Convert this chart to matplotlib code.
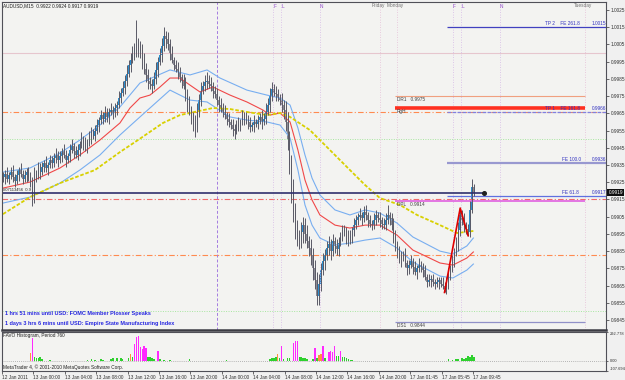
import numpy as np
import matplotlib
matplotlib.use("Agg")
from matplotlib import pyplot as plt
from matplotlib.transforms import blended_transform_factory

plt.rcParams['font.family'] = ['Liberation Sans', 'DejaVu Sans']

# AUDUSD M15 candles, prices in pips (price = value / 10000)
first_open = 9927
closes = [
    9928, 9930, 9927, 9929, 9931, 9928, 9926, 9929, 9932, 9930,
    9927, 9929, 9931, 9928, 9925, 9916, 9927, 9930, 9933, 9931,
    9934, 9936, 9933, 9935, 9938, 9936, 9939, 9941, 9938, 9940,
    9943, 9941, 9938, 9940, 9944, 9946, 9943, 9941, 9944, 9947,
    9950, 9948, 9945, 9948, 9951, 9954, 9952, 9955, 9958, 9961,
    9964, 9962, 9965, 9963, 9966, 9967, 9965, 9968, 9970, 9974,
    9977, 9980, 9984, 9988, 9993, 9996, 9999, 10003, 10005, 10001,
    10002, 9996, 9991, 9987, 9984, 9982, 9981, 9985, 9990, 9995,
    9999, 10004, 10010, 10008, 10005, 10000, 9996, 9993, 9991, 9989,
    9986, 9984, 9981, 9976, 9971, 9967, 9963, 9960, 9958, 9966,
    9973, 9978, 9981, 9983, 9984, 9982, 9981, 9978, 9976, 9973,
    9970, 9968, 9966, 9964, 9962, 9960, 9958, 9956, 9955, 9957,
    9959, 9960, 9963, 9961, 9962, 9960, 9957, 9958, 9960, 9959,
    9961, 9963, 9960, 9962, 9966, 9970, 9975, 9979, 9977, 9976,
    9974, 9973, 9970, 9967, 9960, 9950, 9935, 9920, 9908, 9897,
    9893, 9891, 9896, 9900, 9895, 9891, 9887, 9883, 9875, 9868,
    9859, 9866, 9874, 9879, 9883, 9887, 9889, 9885, 9891, 9888,
    9886, 9890, 9894, 9896, 9897, 9893, 9891, 9894, 9897, 9900,
    9903, 9905, 9906, 9904, 9908, 9906, 9903, 9901, 9900, 9903,
    9906, 9904, 9903, 9901, 9900, 9903, 9906, 9904, 9900, 9894,
    9889, 9884, 9880, 9882, 9883, 9878, 9875, 9877, 9879, 9876,
    9873, 9875, 9877, 9876, 9874, 9870, 9867, 9868, 9869, 9867,
    9866, 9867, 9868, 9866, 9865, 9863, 9867, 9871, 9875, 9879,
    9884, 9889, 9897, 9906, 9903, 9900, 9898, 9896, 9909, 9922,
    9919,
]
# wick lengths in pips above / below the body
up_wick = [
    3, 2, 4, 2, 3, 4, 2, 3, 2, 4,  2, 3, 2, 3, 3, 3, 7, 2, 4, 3,
    3, 2, 4, 2, 3, 2, 3, 4, 2, 3,  2, 4, 3, 2, 3, 4, 2, 3, 3, 2,
    4, 2, 3, 2, 4, 3, 2, 3, 4, 2,  3, 2, 4, 3, 2, 4, 2, 3, 2, 4,
    3, 4, 3, 5, 3, 4, 5, 3, 14, 4,  5, 3, 4, 3, 4, 2, 3, 4, 5, 3,
    4, 5, 5, 3, 4, 3, 4, 2, 3, 4,  3, 2, 4, 5, 3, 4, 2, 3, 4, 5,
    3, 5, 3, 4, 5, 3, 4, 2, 3, 4,  2, 4, 3, 4, 2, 3, 2, 4, 3, 4,
    4, 2, 4, 3, 4, 2, 3, 2, 4, 2,  3, 2, 4, 3, 5, 4, 5, 4, 3, 4,
    3, 2, 4, 3, 5, 6, 5, 6, 7, 5,  6, 4, 6, 5, 4, 5, 3, 5, 4, 5,
    5, 6, 4, 5, 3, 4, 5, 3, 4, 2,  4, 3, 2, 4, 3, 2, 4, 3, 2, 4,
    3, 2, 4, 2, 3, 4, 2, 3, 2, 4,  3, 2, 4, 2, 3, 4, 6, 2, 3, 4,
    3, 2, 4, 3, 2, 4, 2, 3, 4, 2,  3, 2, 4, 2, 2, 3, 2, 4, 2, 3,
    2, 3, 2, 2, 4, 2, 3, 4, 2, 4,  3, 4, 5, 4, 3, 4, 2, 3, 5, 5,
    2,
]
dn_wick = [
    2, 4, 2, 3, 2, 3, 4, 2, 3, 2,  3, 2, 4, 2, 3, 5, 3, 2, 3, 4,
    2, 3, 2, 4, 2, 3, 2, 3, 4, 2,  3, 2, 4, 2, 3, 2, 4, 2, 3, 4,
    2, 4, 2, 3, 2, 4, 2, 3, 2, 4,  2, 3, 2, 3, 4, 2, 3, 2, 4, 2,
    3, 2, 4, 3, 2, 4, 2, 3, 5, 3,  4, 5, 3, 4, 5, 3, 4, 2, 3, 4,
    2, 4, 3, 5, 3, 4, 2, 3, 2, 4,  3, 4, 2, 4, 5, 3, 4, 5, 7, 4,
    3, 4, 2, 3, 4, 2, 3, 4, 2, 3,  4, 2, 3, 2, 4, 3, 2, 4, 5, 2,
    2, 4, 2, 3, 2, 4, 3, 2, 4, 2,  3, 2, 4, 2, 3, 2, 4, 3, 2, 4,
    2, 3, 4, 5, 5, 6, 5, 7, 6, 5,  5, 5, 4, 6, 5, 4, 5, 6, 7, 5,
    5, 5, 4, 3, 5, 3, 4, 5, 3, 4,  3, 4, 2, 3, 2, 4, 3, 2, 4, 3,
    2, 3, 2, 4, 2, 3, 4, 2, 3, 2,  3, 2, 4, 3, 2, 3, 2, 4, 3, 4,
    4, 3, 2, 4, 3, 2, 4, 3, 2, 4,  2, 4, 2, 3, 4, 2, 3, 2, 4, 2,
    3, 2, 4, 2, 2, 2, 3, 4, 3, 2,  3, 2, 4, 3, 3, 4, 3, 2, 3, 2,
    2,
]

# moving averages (bar index, price)
yellow_x = [0, 13.8, 29.1, 46.9, 59.6, 68.8, 81.5, 90.2, 107.0, 115.7, 124.3, 134.5,
            141.2, 146.3, 156.4, 166.6, 176.8, 184.5, 192.1, 202.3, 211.0, 222.7, 231.4, 239.7]
yellow_y = [0.99065, 0.99164, 0.99245, 0.99321, 0.99425, 0.99495, 0.99594, 0.99640, 0.99681,
            0.99675, 0.99658, 0.99640, 0.99652, 0.99629, 0.99553, 0.99437, 0.99321, 0.99234,
            0.99158, 0.99118, 0.99060, 0.99001, 0.98955, 0.98967]
red_x = [0, 13.8, 29.1, 39.2, 49.4, 59.6, 64.7, 69.8, 74.9, 80.0, 85.1, 90.2, 95.3, 100.4,
         107.0, 115.7, 124.3, 132.5, 136.1, 141.2, 146.3, 150.3, 153.9, 157.5, 161.5, 169.2,
         176.8, 184.5, 192.1, 200.8, 208.9, 222.7, 229.3, 236.4, 239.7]
red_y = [0.99216, 0.99251, 0.99333, 0.99408, 0.99495, 0.99594, 0.99681, 0.99739, 0.99756,
         0.99803, 0.99855, 0.99855, 0.99814, 0.99774, 0.99803, 0.99756, 0.99716, 0.99669,
         0.99640, 0.99652, 0.99600, 0.99437, 0.99263, 0.99147, 0.99060, 0.99001, 0.98984,
         0.99001, 0.99001, 0.98943, 0.98856, 0.98781, 0.98769, 0.98810, 0.98845]
band_up_x = [0, 13.8, 29.1, 39.2, 49.4, 59.6, 69.8, 85.1, 95.3, 104.0, 110.6, 124.3, 134.5,
             141.2, 146.3, 150.3, 153.9, 157.5, 161.5, 169.2, 176.8, 184.5, 192.1, 200.8,
             208.9, 222.7, 229.3, 236.4, 239.7]
band_up_y = [0.99309, 0.99333, 0.99420, 0.99495, 0.99582, 0.99687, 0.99826, 0.99902, 0.99873,
             0.99902, 0.99855, 0.99785, 0.99756, 0.99739, 0.99698, 0.99565, 0.99408, 0.99274,
             0.99176, 0.99089, 0.99060, 0.99089, 0.99071, 0.99013, 0.98932, 0.98850, 0.98833,
             0.98880, 0.98926]
band_dn_x = [0, 13.8, 29.1, 39.2, 49.4, 59.6, 69.8, 85.1, 95.3, 104.0, 115.7, 124.3, 134.5,
             141.2, 146.3, 150.3, 153.9, 157.5, 161.5, 169.2, 176.8, 184.5, 192.1, 200.8,
             208.9, 222.7, 229.3, 236.4, 239.7]
band_dn_y = [0.99129, 0.99164, 0.99245, 0.99321, 0.99408, 0.99524, 0.99629, 0.99785, 0.99727,
             0.99716, 0.99629, 0.99611, 0.99600, 0.99582, 0.99507, 0.99321, 0.99118, 0.99001,
             0.98926, 0.98885, 0.98897, 0.98914, 0.98926, 0.98868, 0.98787, 0.98705, 0.98694,
             0.98740, 0.98775]
zigzag_x = [225, 233, 237]
zigzag_y = [0.9861, 0.9910, 0.9894]

# histogram sub-window
hist_bar = [14, 15, 16, 17, 18, 19, 20, 24, 43, 45, 47, 50, 51, 55, 56, 58, 60, 61,
            64, 65, 66, 67, 68, 69, 70, 71, 72, 73, 74, 75, 76, 77, 79, 80, 82, 85, 95, 114,
            136, 137, 138, 139, 140, 141, 142, 143, 145, 146, 148, 149, 150, 151, 152, 153,
            154, 155, 158, 159, 160, 161, 162, 163, 164, 166, 167, 168, 169, 170, 171, 172,
            173, 174, 175, 176, 177, 178,
            227, 229, 231, 232, 234, 235, 236, 237, 238, 239, 240]
hist_val = [75, 227, 35, 30, 25, 40, 20, 8, 10, 15, 8, 12, 10, 20, 25, 30, 22, 15,
            30, 65, 35, 170, 240, 250, 140, 120, 150, 130, 40, 35, 30, 20, 100, 15, 10, 8, 15, 8,
            20, 30, 25, 35, 65, 30, 150, 20, 30, 25, 180, 200, 200, 40, 35, 30,
            25, 20, 20, 125, 25, 60, 65, 150, 30, 90, 95, 90, 150, 50, 45, 100,
            35, 40, 25, 20, 10, 8,
            12, 10, 20, 15, 25, 20, 30, 45, 40, 55, 35]
hist_kind = ['o', 'm', 'g', 'g', 'g', 'g', 'g', 'g', 'g', 'g', 'g', 'g', 'g', 'g', 'g', 'g', 'g', 'g',
             'g', 'o', 'g', 'm', 'm', 'm', 'm', 'm', 'm', 'm', 'g', 'g', 'g', 'g', 'm', 'g', 'g', 'g', 'g', 'g',
             'g', 'g', 'g', 'g', 'o', 'g', 'm', 'g', 'g', 'g', 'm', 'm', 'm', 'g', 'g', 'g',
             'g', 'g', 'g', 'm', 'g', 'o', 'o', 'm', 'g', 'm', 'm', 'm', 'm', 'g', 'g', 'm',
             'g', 'g', 'g', 'g', 'g', 'g',
             'g', 'g', 'g', 'g', 'g', 'g', 'g', 'g', 'g', 'g', 'g']
hist_top, hist_bottom = 292.778, -107.694

time_labels = ["12 Jan 2011", "13 Jan 00:00", "13 Jan 04:00", "13 Jan 08:00", "13 Jan 12:00",
               "13 Jan 16:00", "13 Jan 20:00", "14 Jan 00:00", "14 Jan 04:00", "14 Jan 08:00",
               "14 Jan 12:00", "14 Jan 16:00", "14 Jan 20:00", "17 Jan 01:45", "17 Jan 05:45",
               "17 Jan 09:45"]

session_labels = ["F", "L", "N", "F", "L", "N"]
session_bars = [137.6, 141.7, 161.5, 229.3, 233.4, 253.3]
day_labels = ["Friday", "Monday", "Tuesday"]
day_bars = [192.1, 200.8, 296.6]
day_sep_bar = 109.1

pivot_names = ["DR1", "RgH", "DPL", "DS1"]
pivot_prices = [0.9975, 0.9968, 0.9914, 0.9844]
fibo_names = ["TP 2    FE 261.8", "TP 1    FE 161.8", "FE 100.0", "FE 61.8"]
fibo_prices = [1.0015, 0.9966, 0.9936, 0.9917]
last_price = 0.9919

# ---------------------------------------------------------------
W, H = 625, 380
bg = '#F3F3F1'
small = 3.4


def px_box(x0, y0, x1, y1):
    return [x0 / W, 1 - y1 / H, (x1 - x0) / W, (y1 - y0) / H]


def ftext(x, y, s, **kw):
    fig.text(x / W, 1 - y / H, s, va='center', ha='left', **kw)


fig = plt.figure(figsize=(6.25, 3.8), dpi=100, facecolor='#F0F0F0')
ax = fig.add_axes(px_box(2, 2, 606, 330), facecolor=bg)
axh = fig.add_axes(px_box(2, 332, 606, 371), facecolor=bg, sharex=ax)

n = len(closes)
bars = np.arange(n)
c = np.array(closes) / 1e4
o = np.array([first_open] + closes[:-1]) / 1e4
hi = np.maximum(o, c) + np.array(up_wick) / 1e4
lo = np.minimum(o, c) - np.array(dn_wick) / 1e4

# full-width levels
ax.axhline(1.0000, color='#E6C6CE', lw=0.8)
ax.axhline(0.9950, color='#A8E6A0', lw=0.7, ls=(0, (1, 1.5)))
ax.axhline(0.9850, color='#A8E6A0', lw=0.7, ls=(0, (1, 1.5)))
ax.axhline(0.9966, color='#FF8A50', lw=0.8, ls=(0, (5, 2, 1, 2)))
ax.axhline(0.9915, color='#F06A6A', lw=0.8, ls=(0, (5, 2, 1, 2)))
ax.axhline(0.9883, color='#FF8A50', lw=0.8, ls=(0, (5, 2, 1, 2)))

# session / day markers
trans_top = blended_transform_factory(ax.transData, ax.transAxes)
ax.axvline(day_sep_bar, color='#A47CE0', lw=0.7, ls=(0, (3, 2)))
for lab, b in zip(session_labels, session_bars):
    ax.axvline(b, color='#D4B6E6', lw=0.6, ls=(0, (1, 2)))
    ax.text(b + 0.8, 1 - 4 / 328, lab, transform=trans_top, fontsize=small,
            color='#9048C8', ha='center', va='center')
for lab, b in zip(day_labels, day_bars):
    ax.axvline(b, color='#E6BCD6', lw=0.6, ls=(0, (1, 2)))
    ax.text(b - 1, 1 - 4 / 328, lab, transform=trans_top, fontsize=small,
            color='#707070', ha='center', va='center')

# pivot levels
piv_cols = ['#F0A080', '#FF3020', '#E060E0', '#9090C8']
piv_lw = [0.8, 2.6, 1.2, 0.9]
for name, p, col, lw in zip(pivot_names, pivot_prices, piv_cols, piv_lw):
    ax.hlines(p, 199.8, 296.6, color=col, lw=lw)
    lab = name if name == "RgH" else f"{name}   {p:.4f}"
    ax.text(200.8, p - 0.00007, lab, fontsize=small, color='#404040', va='top', ha='left')

# fibo expansion levels
fib_cols = ['#4040C0', '#8080E0', '#9898D0', '#6070E0']
fib_lw = [0.9, 0.9, 1.6, 0.9]
fib_ls = ['-', (0, (3, 1)), '-', '-']
for name, p, col, lw, ls in zip(fibo_names, fibo_prices, fib_cols, fib_lw, fib_ls):
    ax.hlines(p, 226.3, 307.3, color=col, lw=lw, ls=ls)
    ax.text(284.8 if name.startswith("FE") else 276.2, p + 0.00005, name,
            fontsize=small, color='#3030C0', va='bottom', ha='left')
    ax.text(300.1, p + 0.00005, f"{p:.4f}", fontsize=small, color='#3030C0',
            va='bottom', ha='left')

# moving averages
ax.plot(band_up_x, band_up_y, color='#78AEF0', lw=0.8)
ax.plot(band_dn_x, band_dn_y, color='#78AEF0', lw=0.8)
ax.plot(red_x, red_y, color='#F04848', lw=0.8)
ax.plot(yellow_x, yellow_y, color='#D8D000', lw=1.3, ls=(0, (2, 1)))

# candles
ax.vlines(bars, lo, hi, color='#5A5A66', lw=0.7)
up = c >= o
ax.bar(bars[up], (c - o)[up], bottom=o[up], width=0.75, color='#2C8FD0', edgecolor='none')
ax.bar(bars[~up], (o - c)[~up], bottom=c[~up], width=0.75, color='#8A8A94', edgecolor='none')

ax.plot(zigzag_x, zigzag_y, color='#E00000', lw=1.2)

# order line
ax.hlines(last_price, -0.5, 245.1, color='#30306E', lw=1.2)
ax.plot([245.1], [last_price], 'o', ms=2.6, color='#202020')
ax.text(0, last_price + 0.00004, "#07113456  0.9", fontsize=small - 0.4, color='#202020',
        va='bottom', ha='left')

ax.set_xlim(-0.5, 307.3)
ax.set_ylim(0.98392, 1.002965)

price_ticks = [round(0.9845 + 0.001 * k, 4) for k in range(19)]
ax.yaxis.tick_right()
ax.set_yticks(price_ticks)
ax.set_yticklabels([f"{p:.4f}" for p in price_ticks])
ax.tick_params(axis='y', direction='out', length=2, width=0.5, pad=1.5,
               labelsize=small, colors='#303030')
ax.tick_params(axis='x', bottom=False, labelbottom=False)
trans_right = blended_transform_factory(ax.transAxes, ax.transData)
ax.text(1.004, last_price, f"{last_price:.4f}", transform=trans_right, fontsize=small,
        color='white', va='center', ha='left',
        bbox=dict(boxstyle='square,pad=0.25', fc='#101010', ec='none'))

for s in ax.spines.values():
    s.set_color('#505058')
    s.set_linewidth(0.8)
ax.spines['bottom'].set_linewidth(1.8)
ax.spines['bottom'].set_color('#3C3C44')

# histogram window
hcol = {'g': '#2ED02E', 'm': '#FF28FF', 'o': '#FF9040'}
axh.axhline(0, color='#A0A0A0', lw=0.6, ls=(0, (1, 1.5)))
axh.bar(hist_bar, hist_val, width=0.8, color=[hcol[k] for k in hist_kind], edgecolor='none')
axh.set_ylim(hist_bottom, hist_top)
axh.yaxis.tick_right()
axh.set_yticks([hist_top, 0, hist_bottom])
axh.set_yticklabels(["292.778", "0.00", "-107.694"])
axh.tick_params(axis='y', direction='out', length=1.5, width=0.5, pad=1,
                labelsize=2.9, colors='#303030')
ylabs = axh.get_yticklabels()
ylabs[0].set_va('top')
ylabs[2].set_va('bottom')
axh.set_xticks([16 * k - 0.5 for k in range(len(time_labels))])
axh.set_xticklabels(time_labels)
axh.tick_params(axis='x', direction='out', length=2, width=0.5, pad=1,
                labelsize=small, colors='#303030')
for lbl in axh.get_xticklabels():
    lbl.set_ha('left')
for s in axh.spines.values():
    s.set_color('#505058')
    s.set_linewidth(0.8)

# header and notes
ftext(3, 6, "AUDUSD,M15  0.9922 0.9924 0.9917 0.9919", fontsize=small, color='#202020')
ftext(5, 314, "1 hrs 51 mins until USD: FOMC Member Plosser Speaks",
      fontsize=4.0, color='#2828E0', fontweight='bold')
ftext(5, 323, "1 days 3 hrs 6 mins until USD: Empire State Manufacturing Index",
      fontsize=4.0, color='#2828E0', fontweight='bold')
ftext(3, 336, "FAVO Histogram, Period 760", fontsize=small, color='#202020')
ftext(3, 367, "MetaTrader 4, \u00a9 2001-2010 MetaQuotes Software Corp.",
      fontsize=small, color='#202020')

fig.savefig("out.png", dpi=100, facecolor=fig.get_facecolor())
